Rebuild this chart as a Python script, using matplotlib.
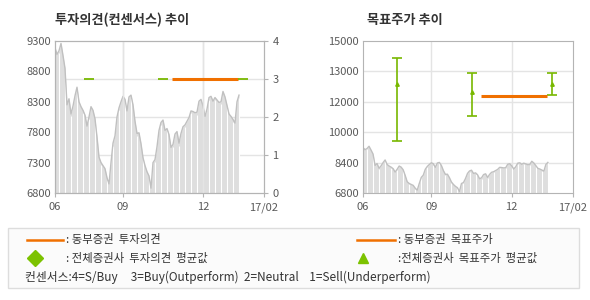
import numpy as np
import matplotlib.pyplot as plt
from matplotlib.lines import Line2D
from matplotlib.patches import Rectangle

plt.rcParams['font.family'] = ['Noto Sans CJK KR', 'DejaVu Sans']

# stock price (shared by both panels), one value per ~2px
price = [9190, 9080, 9140, 9260, 9060, 8850, 8250, 8350, 8100, 8230,
         8400, 8540, 8300, 8220, 8160, 8080, 7900, 8050, 8220, 8160,
         8020, 7720, 7390, 7300, 7250, 7200, 7050, 6950, 7300, 7620,
         7740, 8050, 8200, 8300, 8390, 8340, 8150, 8380, 8410, 8250,
         7980, 7780, 7790, 7610, 7380, 7250, 7150, 7080, 6880, 7300,
         7350, 7560, 7830, 7960, 8000, 7830, 7860, 7760, 7550, 7600,
         7770, 7810, 7620, 7780, 7890, 7920, 7980, 8040, 8150, 8140,
         8120, 8130, 8310, 8340, 8230, 8060, 8180, 8370, 8390, 8310,
         8370, 8330, 8290, 8300, 8470, 8380, 8240, 8100, 8060, 8010,
         7950, 8300, 8410]

x_ticks = [0, 34, 74, 104.5]
x_labels = ['06', '09', '12', '17/02']

# investment opinion
dongbu_opinion_span = [58.5, 91.5]
dongbu_opinion = 3
cons_opinion_pos = [17, 54, 94]
cons_opinion = [3, 3, 3]

# target price
cons_target_pos = [17, 54, 94]
cons_target_mean = [12600, 12330, 12600]
cons_target_high = [13900, 12950, 12950]
cons_target_low = [9550, 11060, 12210]
dongbu_target_span = [58.5, 91.5]
dongbu_target = 12200

left_yticks = [6800, 7300, 7800, 8300, 8800, 9300]
opinion_ticks = [0, 1, 2, 3, 4]
right_yticks = [6800, 8400, 10000, 12000, 13000, 15000]

ORANGE = '#f07000'
GREEN = '#78b800'
GRID = '#e4e4e4'
SPINE = '#b4b4b4'
TXT = '#5a5a5a'

idx = np.arange(len(price))
price = np.array(price)


def price_area(ax):
    ax.fill_between(idx, 6800, price, color='#dedede', lw=0, zorder=1)
    ax.plot(idx, price, color='#c0c0c0', lw=1, zorder=2)
    sx = np.arange(2, len(price), 3)
    ax.vlines(sx, 6800, np.interp(sx, idx, price) - 40, color='white', lw=0.8, zorder=1.5)


def style(ax):
    for s in ax.spines.values():
        s.set_color(SPINE)
    ax.tick_params(colors=SPINE, labelcolor=TXT, labelsize=8, length=3)
    ax.set_xlim(0, x_ticks[-1])
    ax.set_xticks(x_ticks)
    ax.set_xticklabels(x_labels)
    for x in x_ticks[1:3]:
        ax.axvline(x, color=GRID, lw=1, zorder=0)


fig = plt.figure(figsize=(5.9, 3.0), dpi=100)

# ---- left: opinion ----
axo = fig.add_axes([55 / 590, 1 - 193 / 300, 209 / 590, 152 / 300])
axp = axo.twinx()
axo.yaxis.tick_right()
axp.yaxis.tick_left()
axp.yaxis.set_label_position('left')
axp.set_zorder(axo.get_zorder() - 1)
axo.patch.set_visible(False)

price_area(axp)
axp.set_ylim(6800, 9300)
axp.set_yticks(left_yticks)
style(axp)
axp.tick_params(axis='y', length=0, pad=3)

axo.set_ylim(0, 4)
axo.set_yticks(opinion_ticks)
for v in opinion_ticks[1:4]:
    axp.axhline(6800 + v * 625, color=GRID, lw=1, zorder=0)
axo.hlines(dongbu_opinion, *dongbu_opinion_span, color=ORANGE, lw=2.2)
axo.hlines(cons_opinion, np.array(cons_opinion_pos) - 2.3, np.array(cons_opinion_pos) + 2.3,
           color=GREEN, lw=1.3)
style(axo)
axo.tick_params(axis='y', pad=3)

# ---- right: target price ----
def fwd(v):
    return np.interp(v, right_yticks, np.arange(len(right_yticks)))


def inv(p):
    return np.interp(p, np.arange(len(right_yticks)), right_yticks)


axt = fig.add_axes([363 / 590, 1 - 193 / 300, 210 / 590, 152 / 300])
axt.set_yscale('function', functions=(fwd, inv))
axt.set_ylim(6800, 15000)
axt.set_yticks(right_yticks)
axt.set_yticklabels([str(v) for v in right_yticks])
axt.yaxis.set_minor_locator(plt.NullLocator())
for v in right_yticks[1:-1]:
    axt.axhline(v, color=GRID, lw=1, zorder=0)
price_area(axt)
style(axt)
axt.tick_params(axis='y', length=0, pad=3)

mean = np.array(cons_target_mean)
axt.errorbar(cons_target_pos, mean,
             yerr=[mean - np.array(cons_target_low), np.array(cons_target_high) - mean],
             fmt='^', color=GREEN, ms=2.5, capsize=3.5, elinewidth=1.2, capthick=1.2, zorder=4)
axt.hlines(dongbu_target, *dongbu_target_span, color=ORANGE, lw=2.2, zorder=4)

# titles
fig.text(55 / 590, 1 - 20 / 300, '투자의견(컨센서스) 추이', fontsize=9.5, fontweight='bold',
         color='#333333', va='center')
fig.text(367 / 590, 1 - 20 / 300, '목표주가 추이', fontsize=9.5, fontweight='bold',
         color='#333333', va='center')

# legend box
fig.patches.append(Rectangle((8 / 590, 1 - 288 / 300), 571 / 590, 60 / 300,
                             transform=fig.transFigure, facecolor='#fbfbfb',
                             edgecolor='#dddddd', lw=1))
fs = 8.2
fig.lines.append(Line2D([27 / 590, 63 / 590], [1 - 240 / 300] * 2, transform=fig.transFigure,
                        color=ORANGE, lw=1.8))
fig.text(66 / 590, 1 - 240 / 300, ': 동부증권  투자의견', fontsize=fs, color='#333333', va='center')
fig.lines.append(Line2D([357 / 590, 395 / 590], [1 - 240 / 300] * 2, transform=fig.transFigure,
                        color=ORANGE, lw=1.8))
fig.text(398 / 590, 1 - 240 / 300, ': 동부증권  목표주가', fontsize=fs, color='#333333', va='center')
fig.lines.append(Line2D([35 / 590], [1 - 258 / 300], transform=fig.transFigure,
                        marker='D', ms=8.5, color='#7cc200', lw=0))
fig.text(66 / 590, 1 - 258 / 300, ': 전체증권사  투자의견  평균값', fontsize=fs, color='#333333', va='center')
fig.lines.append(Line2D([363 / 590], [1 - 258 / 300], transform=fig.transFigure,
                        marker='^', ms=7, color='#7cc200', lw=0))
fig.text(398 / 590, 1 - 258 / 300, ':전체증권사  목표주가  평균값', fontsize=fs, color='#333333', va='center')
fig.text(25 / 590, 1 - 277 / 300,
         '컨센서스:4=S/Buy     3=Buy(Outperform)  2=Neutral    1=Sell(Underperform)',
         fontsize=8.5, color='#333333', va='center')

fig.savefig('out.png', dpi=100)
